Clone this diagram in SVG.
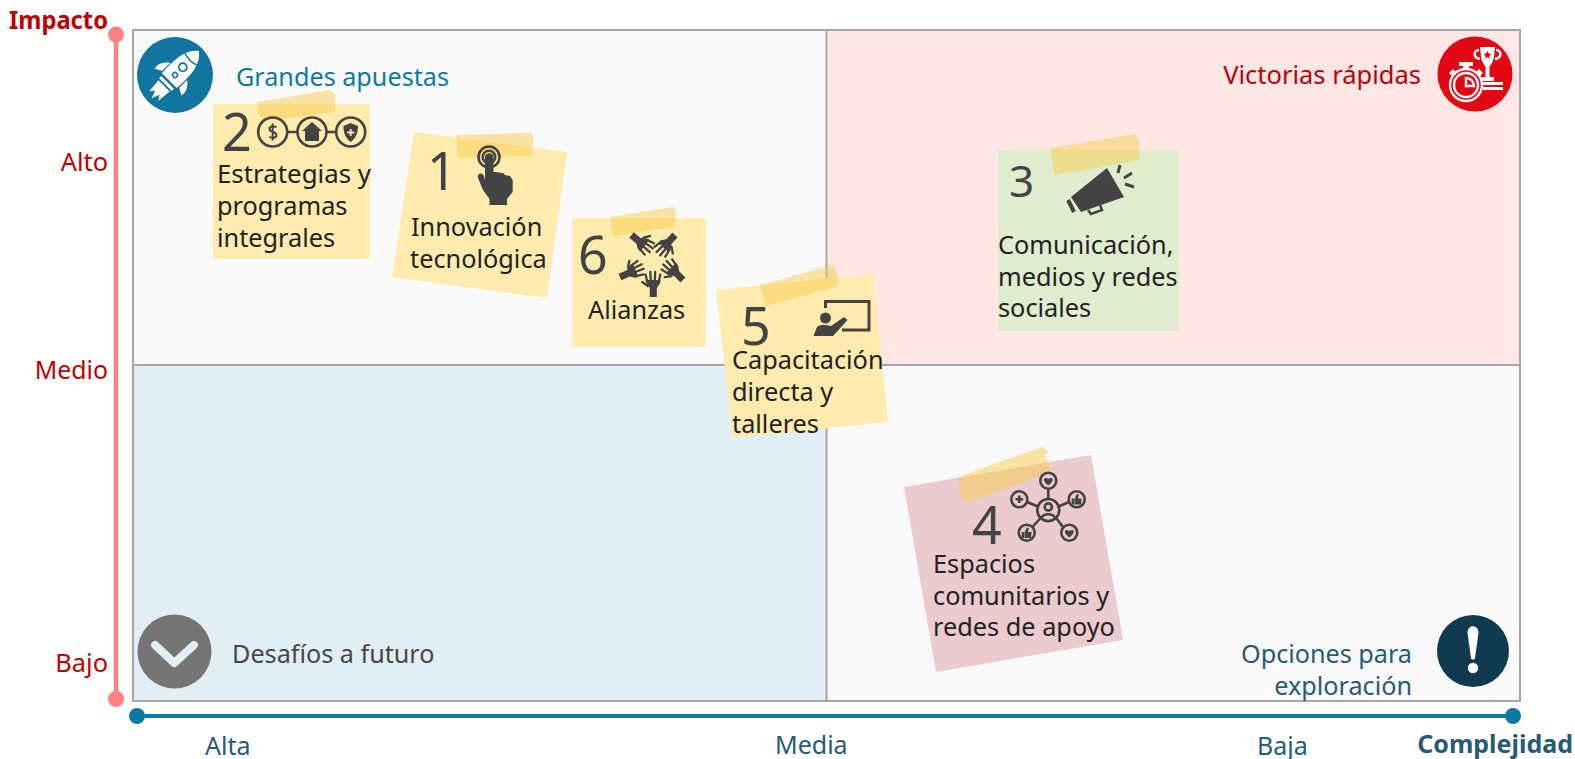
<svg xmlns="http://www.w3.org/2000/svg" width="1575" height="759" viewBox="0 0 1575 759">
<style>
text{font-family:"Noto Sans","Open Sans","Liberation Sans",sans-serif}
.g{fill:none;stroke:#a6a6a6;stroke-width:2}
.ax{fill:#c00000;font-size:25.400px}
.cx{fill:#265b75;font-size:25px}
.q{font-size:25.200px}
.t{fill:#222;font-size:25.300px}
.n{fill:#434343;font-size:52px}
.y{fill:#ffebae}
.tape{fill:#f5ce4d;fill-opacity:.5}
.ic{fill:none;stroke:#434343;stroke-width:2.600}
.f{fill:#434343}
.w{fill:#fff}
.ws{fill:none;stroke:#fff;stroke-width:2.400}
.fg{fill:none;stroke:#434343;stroke-width:2.300;stroke-linecap:round}
</style>
<defs>
<g id="hand"><path class="f" d="M-3.500 0V-9L-7-14-7.500-17H7.300L6.800-13.500 3.500-9V0Z"/><path class="fg" d="M-6.300-16L-7.700-22.500M-2.500-16L-3-25M1.500-16L1.900-25M5.600-16L7-22.500M-5.500-11L-11-15"/></g>
<path id="heart" class="f" d="M0 4.500C-7-.5-4.500-5 0-2 4.500-5 7-.5 0 4.500z"/>
<path id="thumb" class="f" d="M-5-1h2.500v6H-5zM-2-1l2-4c1-1 2.500 0 2 1.500L1-1h4l-.8 6H-2z"/>
</defs>
<g id="quadrants">
<rect x="133" y="30" width="693.500" height="335" fill="#f9f9f9"/>
<rect x="826.500" y="30" width="693.500" height="335" fill="#ffe7e6"/>
<rect x="133" y="365" width="693.500" height="336" fill="#e1eef4"/>
<rect x="826.500" y="365" width="693.500" height="336" fill="#f9f9f9"/>
<path class="g" d="M133 30H1520V701H133ZM826.500 30V701M133 365H1520"/>
</g>
<g id="connectors">
<path d="M116 34.500V700" stroke="#ff8080" stroke-width="4.500" fill="none"/>
<circle cx="116" cy="34.500" r="8" fill="#ff8080"/><circle cx="116" cy="699" r="8" fill="#ff8080"/>
<path d="M137 716H1514" stroke="#0a7aa3" stroke-width="4" fill="none"/>
<circle cx="137" cy="716" r="8" fill="#0a7aa3"/><circle cx="1513" cy="716" r="8" fill="#0a7aa3"/>
</g>
<g id="axis-labels">
<text x="9" y="29" class="ax" font-weight="700" textLength="99" lengthAdjust="spacingAndGlyphs">Impacto</text>
<text x="108" y="171" class="ax" text-anchor="end">Alto</text>
<text x="108" y="379" class="ax" text-anchor="end" style="font-size:24.800px">Medio</text>
<text x="108" y="672" class="ax" text-anchor="end">Bajo</text>
<text x="205" y="755" class="cx">Alta</text>
<text x="775" y="754" class="cx">Media</text>
<text x="1257" y="755" class="cx">Baja</text>
<text x="1573" y="753" class="cx" font-weight="700" text-anchor="end">Complejidad</text>
</g>
<g id="q-grandes">
<circle cx="175" cy="75" r="38" fill="#10759f"/>
<g transform="translate(175 75) rotate(45)">
<path class="w" d="M0-34C10-26 12-13 10.500 8H-10.500C-12-13-10-26 0-34Z"/>
<path d="M-8.500-22.500C-3-20.500 3-20.500 8.500-22.500" fill="none" stroke="#10759f" stroke-width="1.400"/>
<circle cx="0" cy="-11" r="4" fill="none" stroke="#10759f" stroke-width="1.800"/>
<circle cx="0" cy="0" r="2.500" fill="none" stroke="#10759f" stroke-width="1.600"/>
<path class="w" d="M-12-5C-18-1-20 4-19 10L-12 6ZM12-5C18-1 20 4 19 10L12 6ZM-9 10.500H9V13.500H-9ZM-8 15.500H8L6.500 30 3 25 0 33-3 25-6.500 30Z"/>
</g>
<text x="236" y="86" class="q" fill="#0e7a9f">Grandes apuestas</text>
</g>
<g id="q-victorias">
<circle cx="1475" cy="74" r="37.500" fill="#e30613"/>
<text x="1421" y="84" font-size="25.500" fill="#c00000" text-anchor="end">Victorias rápidas</text>
<path class="w" d="M1480 47H1495L1494 57C1493 63 1490 66 1489.500 66V77H1494V81H1482V77H1485.500V66C1485 66 1482 63 1481 57Z"/>
<path d="M1487.500 50l1.500 3.200 3.500.4-2.600 2.300.8 3.500-3.200-1.800-3.200 1.800.8-3.500-2.600-2.300 3.500-.4z" fill="#e30613" stroke="#fff" stroke-width="1"/>
<path class="ws" stroke-width="3" d="M1479 50c-6 0-6 8 1 9M1496 50c6 0 6 8-1 9"/>
<path class="w" d="M1483 82H1503V85H1483ZM1483 87H1503V90H1483ZM1459 62H1473V66H1459ZM1463 66H1469V70H1463ZM1449 73l4-4 3 3-4 4ZM1483 73l-4-4-3 3 4 4Z"/>
<circle cx="1466" cy="85" r="16" fill="#e30613" stroke="#fff" stroke-width="2.400"/>
<circle cx="1466" cy="85" r="12" class="ws" stroke-width="1.800"/>
<path class="ws" stroke-width="1.800" d="M1466 78V86H1474A8 8 0 0 0 1466 78Z"/>
</g>
<g id="q-desafios">
<circle cx="174.500" cy="651.500" r="37" fill="#757575"/>
<path d="M155 645L174.300 663 194 645" fill="none" stroke="#e1eef4" stroke-width="8" stroke-linecap="round" stroke-linejoin="round"/>
<text x="232" y="663" class="q" fill="#474747">Desafíos a futuro</text>
</g>
<g id="q-opciones">
<circle cx="1473" cy="651" r="36" fill="#0f3a50"/>
<path class="w" d="M1467.500 633C1467.500 624 1478.500 624 1478.500 633L1475 658C1474.500 660 1471.500 660 1471 658Z"/>
<circle cx="1473" cy="668" r="5.200" class="w"/>
<text x="1412" y="663" class="q" fill="#265b75" text-anchor="end">Opciones para</text>
<text x="1412" y="695" class="q" fill="#265b75" text-anchor="end">exploración</text>
</g>
<g id="note-2">
<rect x="213" y="104" width="157" height="155" class="y"/>
<path class="tape" d="M258 102L330 90 335.500 95 335 112 263 121 258 113Z"/>
<text x="222" y="151" class="n">2</text>
<g class="ic"><circle cx="272.700" cy="132" r="14.500"/><circle cx="312" cy="132" r="14.500"/><circle cx="350.700" cy="132" r="14.500"/><path d="M287 132H298M326.500 132H336.500"/>
<path d="M276.500 127.500c-1.500-2-7-2-7 1.500s7 2.500 7 6-5.500 3.500-7 1.500M272.700 123.500v17" stroke-width="2"/></g>
<path class="f" d="M312 122L322 131H319V141H305V131H302Z"/>
<path class="f" d="M350.700 123L358 126C358 134 355 139 350.700 142 346.400 139 343.400 134 343.400 126Z"/>
<path d="M350.700 129v7M347.200 132.500h7" stroke="#ffebae" stroke-width="1.800"/>
<text x="217" y="183" class="t" textLength="154" lengthAdjust="spacingAndGlyphs">Estrategias y</text><text x="217" y="215" class="t">programas</text><text x="217" y="247" class="t">integrales</text>
</g>
<g id="note-1">
<path class="y" d="M414 132L567 152 547 298 392 277Z"/>
<path class="tape" d="M456 135L531 133 533.500 137 531.600 156 458 158Z"/>
<text x="427" y="190" class="n">1</text>
<circle cx="489" cy="157" r="6.300" class="ic" stroke-width="1.800"/><circle cx="489" cy="157" r="10.500" class="ic" stroke-width="1.800"/>
<path class="f" d="M485 157C485 152 493.500 152 493.500 157V172L497 172 498 172.500 503 173 505 175 510 176 512.700 180V192L507 199V205H489.500V199L483 190 478 178C477 173 482 172 484 176L485 181Z"/>
<text x="411" y="236" class="t">Innovación</text><text x="410" y="268" class="t">tecnológica</text>
</g>
<g id="note-6">
<rect x="572" y="218" width="134" height="129" class="y"/>
<path class="tape" d="M610 217L673.500 207 676 212 675.500 227 613 236Z"/>
<text x="578" y="274" class="n">6</text>
<use href="#hand" transform="translate(653.300 297)"/>
<use href="#hand" transform="translate(631.500 235) rotate(129)"/>
<use href="#hand" transform="translate(675 235) rotate(223)"/>
<use href="#hand" transform="translate(620 277) rotate(66.500)"/>
<use href="#hand" transform="translate(683 280) rotate(315)"/>
<text x="588" y="319" class="t">Alianzas</text>
</g>
<g id="note-5">
<path class="y" d="M716 290L873 274 888 422 733 438Z"/>
<path class="tape" d="M760 285L832.700 265 837.500 275 838 286 766 306Z"/>
<text x="741" y="345" class="n">5</text>
<path fill="none" stroke="#434343" stroke-width="3" d="M825.500 308V301.500H869V330H842"/>
<circle cx="825.500" cy="318" r="5.500" class="f"/>
<path class="f" d="M813.500 336L817 327C820 324 826 325 831 326L844 317 847.500 320 833 336Z"/>
<text x="732" y="369" class="t">Capacitación</text><text x="732" y="401" class="t">directa y</text><text x="732" y="433" class="t">talleres</text>
</g>
<g id="note-3">
<rect x="998" y="150" width="181" height="181" fill="#dfecce"/>
<path class="tape" d="M1050 148L1135.500 134 1139.600 142 1139 160 1054.700 175Z"/>
<text x="1009" y="197" style="font-size:44px" fill="#434343">3</text>
<path class="f" d="M1107 168L1124 197 1081 212 1071 197Z"/>
<path d="M1068 200L1074 212" fill="none" stroke="#434343" stroke-width="4"/>
<path d="M1088 210L1091 214 1102 210 1100 205" fill="none" stroke="#434343" stroke-width="2.500"/>
<path d="M1120 165L1118 173M1132 173L1124 178M1134 187L1125 184" fill="none" stroke="#434343" stroke-width="3"/>
<text x="998" y="254" class="t">Comunicación,</text><text x="998" y="286" class="t">medios y redes</text><text x="998" y="317" class="t">sociales</text>
</g>
<g id="note-4">
<path d="M904 487L1091 455 1123 640 936 672Z" fill="#ebcbcd"/>
<path class="tape" d="M957.700 477L1042.700 446.700 1048 451.700 1045 455 1051.700 471.700 967 502.700 960 491.700Z"/>
<text x="972" y="544" class="n">4</text>
<g class="ic" stroke-width="2"><circle cx="1048.300" cy="510" r="11"/><circle cx="1048.300" cy="480.700" r="8"/><circle cx="1019.300" cy="499.300" r="8"/><circle cx="1076.700" cy="499.300" r="8"/><circle cx="1026.700" cy="532.700" r="8"/><circle cx="1069.300" cy="532.700" r="8"/>
<path d="M1048.300 488.700V499M1027 502L1038 506.500M1069 502L1058.500 506.500M1032.500 527L1040.500 518M1063 527L1056.500 518.500M1015.500 499.300h7.600M1019.300 495.500v7.600"/>
<circle cx="1048.300" cy="507" r="3.600"/><path d="M1041.500 518C1043 513 1053.500 513 1055 518"/></g>
<use href="#heart" x="1048.300" y="481"/><use href="#heart" x="1069.300" y="533"/><use href="#thumb" x="1076.700" y="499.500"/><use href="#thumb" x="1026.700" y="533"/>
<text x="933" y="573" class="t">Espacios</text><text x="933" y="605" class="t">comunitarios y</text><text x="933" y="636" class="t">redes de apoyo</text>
</g>
</svg>
